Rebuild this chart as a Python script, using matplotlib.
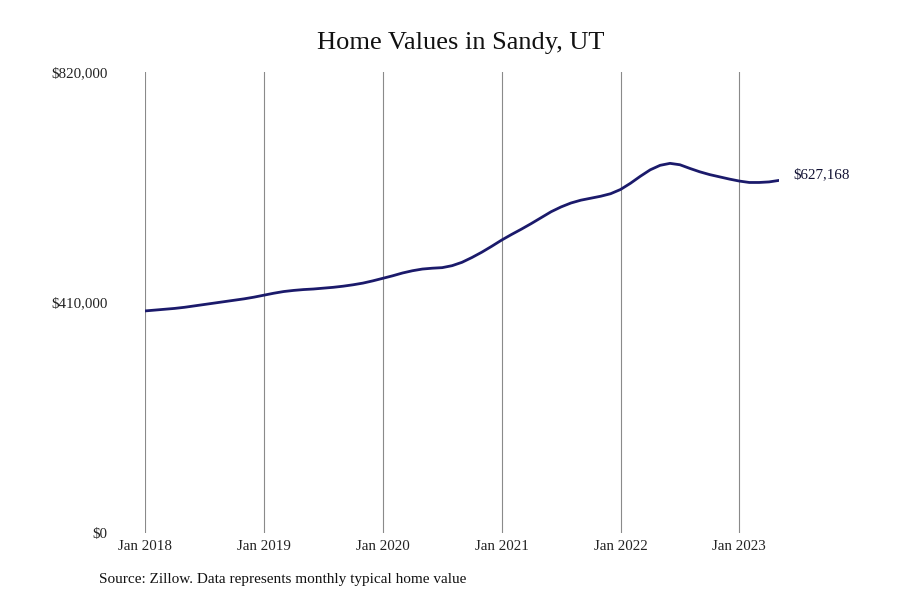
import matplotlib
matplotlib.use("Agg")
import matplotlib.pyplot as plt

plt.rcParams['font.family'] = ['Liberation Serif', 'DejaVu Serif']

tick_labels = ["Jan 2018", "Jan 2019", "Jan 2020", "Jan 2021", "Jan 2022", "Jan 2023"]
y_ticks = [0, 410000, 820000]
y_tick_labels = ["$0", "$410,000", "$820,000"]

values_2018 = [395000, 396500, 398000, 399500, 401500, 404000, 406500, 409000, 411500, 414000, 416500, 419500]
values_2019 = [423000, 426500, 429500, 431500, 433000, 434000, 435500, 437000, 439000, 441500, 444500, 448500]
values_2020 = [453000, 457500, 462500, 466500, 469500, 471000, 472000, 475500, 481500, 490000, 499500, 510000]
values_2021 = [521000, 531000, 540500, 550500, 561000, 571500, 580000, 587000, 592000, 595500, 599000, 603500]
values_2022 = [611000, 622000, 634500, 646000, 654000, 657500, 655000, 648500, 642500, 637500, 633500, 629500]
values_2023 = [626000, 623500, 623500, 624500, 627168]

values = values_2018 + values_2019 + values_2020 + values_2021 + values_2022 + values_2023
months = list(range(len(values)))
last_label = "$627,168"

fig = plt.figure(figsize=(9, 6), dpi=100)
ax = fig.add_axes([145/900, 1-533/600, (779-145)/900, (533-72)/600])
ax.plot(months, values, color='#1b1a6b', linewidth=2.0, solid_capstyle='round', zorder=3)

ax.set_xlim(0, len(values)-1)
ax.set_ylim(0, 820000)
ax.set_xticks([12*i for i in range(len(tick_labels))])
ax.set_xticklabels(tick_labels)
ax.set_yticks(y_ticks)
ax.set_yticklabels(y_tick_labels)
ax.tick_params(axis='both', length=0, labelsize=10.8, colors='#222222')
ax.tick_params(axis='x', pad=5)
ax.tick_params(axis='y', pad=27)
ax.grid(axis='x', color='#8a8a8a', linewidth=0.8)
ax.grid(axis='y', visible=False)
for s in ax.spines.values():
    s.set_visible(False)

ax.annotate(last_label, xy=(months[-1], values[-1]), xytext=(10, 4),
            textcoords='offset points', fontsize=10.8, color='#111133',
            va='center', ha='left', annotation_clip=False)

fig.text(461/900, 1-43/600, "Home Values in Sandy, UT", ha='center', va='center',
         fontsize=19, color='#111111')
fig.text(99/900, 1-580/600, "Source: Zillow. Data represents monthly typical home value",
         ha='left', va='center', fontsize=11, color='#111111')

fig.savefig("out.png", dpi=100, facecolor='white')
